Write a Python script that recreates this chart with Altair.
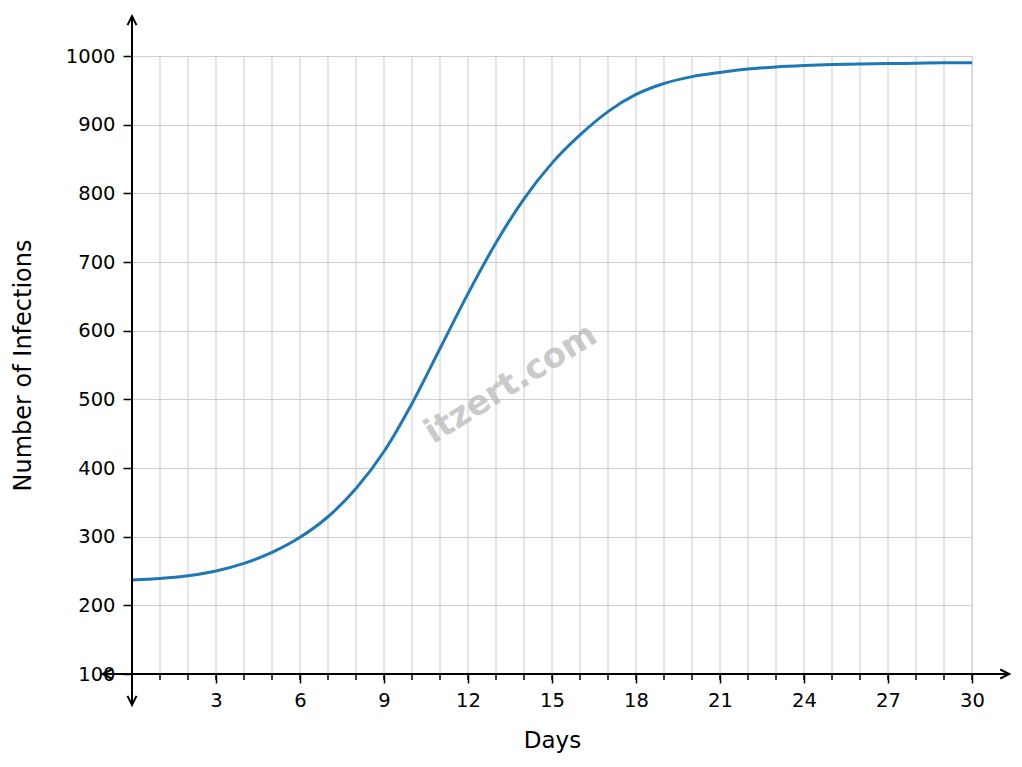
import altair as alt
import pandas as pd

# ---- data ----
days = list(range(31))
infections = [237, 239, 243, 250, 261, 277, 299, 329, 370, 424, 494,
              574, 654, 728, 792, 844, 885, 919, 944, 960, 970,
              976, 981, 984, 986, 987.5, 988.5, 989, 989.5, 990, 990]

x_minor_ticks = list(range(1, 31))
x_grid = list(range(0, 31))
x_major_ticks = list(range(3, 31, 3))
y_ticks = list(range(100, 1001, 100))
y_range = [100, 1000]

# axis-line extents (data units) and arrow directions
x_axis_extent = [-1.05, 31.33]
y_axis_extent = [55, 1058]
arrow_x = [31.33, -1.05, 0, 0]
arrow_y = [100, 100, 1058, 55]
arrow_angle = [0, 180, 270, 90]

FONT = "DejaVu Sans"
BLUE = "#1f77b4"

df = pd.DataFrame({"Days": days, "Infections": infections})
vgrid_df = pd.DataFrame({"x": x_grid, "y0": [y_range[0]] * len(x_grid), "y1": [y_range[1]] * len(x_grid)})
minor_df = pd.DataFrame({"x": x_minor_ticks, "y": [y_range[0]] * len(x_minor_ticks)})
xaxis_df = pd.DataFrame({"x0": [x_axis_extent[0]], "x1": [x_axis_extent[1]], "y": [100]})
yaxis_df = pd.DataFrame({"x": [0], "y0": [y_axis_extent[0]], "y1": [y_axis_extent[1]]})
arrows_df = pd.DataFrame({"x": arrow_x, "y": arrow_y, "angle": arrow_angle})
wm_df = pd.DataFrame({"t": ["itzert.com"]})

xscale = alt.Scale(domain=[0, 30], nice=False, zero=False)
yscale = alt.Scale(domain=[100, 1000], nice=False, zero=False)

x_axis = alt.Axis(
    orient="bottom", values=x_major_ticks, format="d", title="Days",
    domain=False, grid=False, ticks=True, tickSize=9, tickWidth=1.5,
    tickColor="black", labelFont=FONT, labelFontSize=19.5, labelColor="black",
    labelPadding=8, labelFlush=False, titleFont=FONT, titleFontSize=23,
    titleFontWeight="normal", titleColor="black", titlePadding=20,
)
y_axis = alt.Axis(
    orient="left", values=y_ticks, format="d", title="Number of Infections",
    domain=False, grid=True, gridColor="#cccccc", gridWidth=1,
    ticks=True, tickSize=9, tickWidth=1.5, tickColor="black",
    labelFont=FONT, labelFontSize=19.5, labelColor="black", labelPadding=8,
    labelFlush=False, titleFont=FONT, titleFontSize=24, titleFontWeight="normal",
    titleColor="black", titlePadding=30,
)

curve = alt.Chart(df).mark_line(color=BLUE, strokeWidth=3, interpolate="monotone").encode(
    x=alt.X("Days:Q", scale=xscale, axis=x_axis),
    y=alt.Y("Infections:Q", scale=yscale, axis=y_axis),
)

vgrid = alt.Chart(vgrid_df).mark_rule(color="#cccccc", strokeWidth=1).encode(
    x=alt.X("x:Q", scale=xscale),
    y=alt.Y("y0:Q", scale=yscale),
    y2="y1:Q",
)

minor_ticks = alt.Chart(minor_df).mark_rule(color="black", strokeWidth=1.5, y2Offset=6).encode(
    x=alt.X("x:Q", scale=xscale),
    y=alt.Y("y:Q", scale=yscale),
    y2="y:Q",
)

x_line = alt.Chart(xaxis_df).mark_rule(color="black", strokeWidth=2).encode(
    x=alt.X("x0:Q", scale=xscale),
    x2="x1:Q",
    y=alt.Y("y:Q", scale=yscale),
)

y_line = alt.Chart(yaxis_df).mark_rule(color="black", strokeWidth=2).encode(
    x=alt.X("x:Q", scale=xscale),
    y=alt.Y("y0:Q", scale=yscale),
    y2="y1:Q",
)

arrows = alt.Chart(arrows_df).mark_point(
    shape="M-1,-0.5L0,0L-1,0.5", filled=False, color="black",
    strokeWidth=2, size=324, opacity=1,
).encode(
    x=alt.X("x:Q", scale=xscale),
    y=alt.Y("y:Q", scale=yscale),
    angle=alt.Angle("angle:Q", scale=None),
)

watermark = alt.Chart(wm_df).mark_text(
    font=FONT, fontSize=34, fontWeight="bold", angle=328,
    color="#b4b4b4", opacity=0.7, align="center", baseline="middle",
).encode(
    text="t:N",
    x=alt.value(379),
    y=alt.value(328),
)

chart = alt.layer(vgrid, curve, minor_ticks, x_line, y_line, arrows, watermark).properties(
    width=840, height=618,
    padding={"left": 124, "top": 48, "right": 40, "bottom": 83},
    autosize=alt.AutoSizeParams(type="none"),
).configure_view(strokeWidth=0).configure(background="white")

chart.save("out.html", embed_options={"renderer": "svg", "actions": False})
